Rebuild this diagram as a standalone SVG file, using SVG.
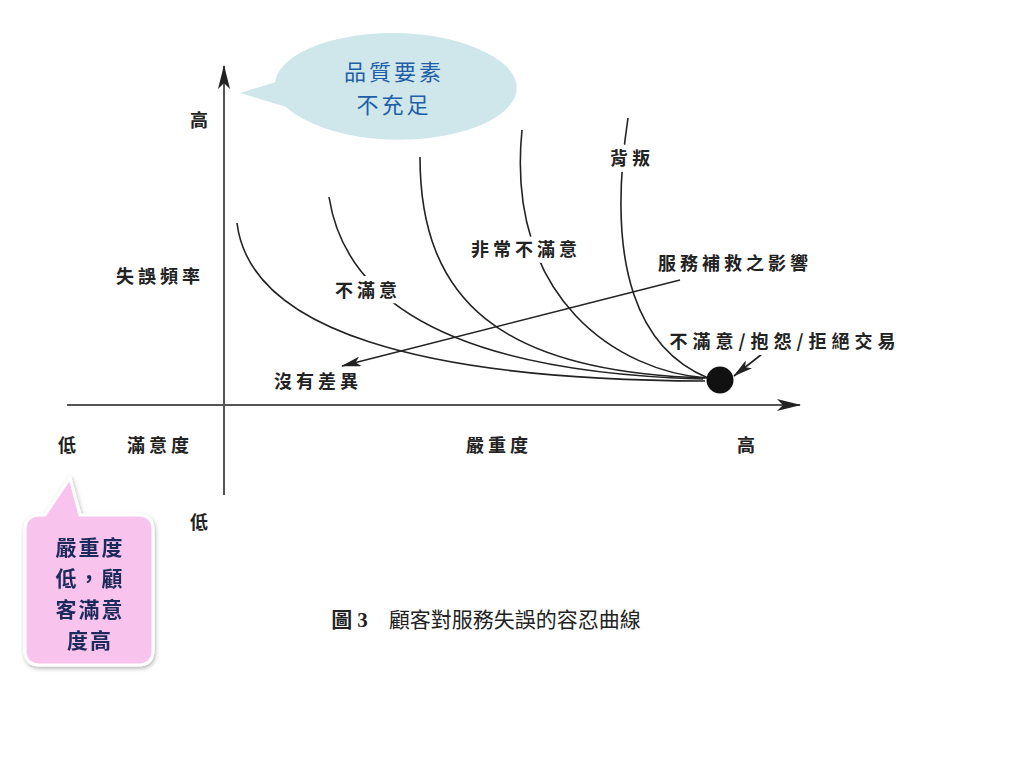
<svg xmlns="http://www.w3.org/2000/svg" width="1024" height="768" viewBox="0 0 1024 768">
<defs>
<style>
.lbl{font-family:"Noto Sans CJK TC","Noto Sans CJK SC",sans-serif;font-size:18px;font-weight:bold;fill:#222;letter-spacing:4px;text-anchor:middle}
.gap{paint-order:stroke;stroke:#fff;stroke-width:10px;stroke-linejoin:round}
.curve{fill:none;stroke:#222;stroke-width:1.6}
.axis{stroke:#555;stroke-width:2;fill:none}
.bb{font-family:"Noto Sans CJK TC",sans-serif;font-size:22px;fill:#1f5fa8;text-anchor:middle;letter-spacing:3px}
.pk{font-family:"Noto Sans CJK TC",sans-serif;font-size:21px;font-weight:bold;fill:#1e2a5c;text-anchor:middle;letter-spacing:2px}
</style>
<marker id="ah" viewBox="0 0 20 10" refX="19" refY="5" markerWidth="20" markerHeight="10" markerUnits="userSpaceOnUse" orient="auto">
<path d="M0,0 L20,5 L0,10 L5,5 Z" fill="#222"/>
</marker>
<marker id="axh" viewBox="0 0 24 12" refX="23" refY="6" markerWidth="24" markerHeight="12" markerUnits="userSpaceOnUse" orient="auto">
<path d="M0,0 L24,6 L0,12 L6,6 Z" fill="#222"/>
</marker>
<filter id="sh" x="-20%" y="-20%" width="140%" height="140%">
<feDropShadow dx="1" dy="2" stdDeviation="2" flood-color="#000" flood-opacity="0.3"/>
</filter>
</defs>
<rect width="1024" height="768" fill="#fff"/>

<g id="axes">
<line class="axis" x1="224" y1="495" x2="224" y2="66" marker-end="url(#axh)"/>
<line class="axis" x1="67" y1="405" x2="800" y2="405" marker-end="url(#axh)"/>
</g>

<g id="connectors">
<path class="curve" d="M237,223 C250,330 420,380 705,381"/>
<path class="curve" d="M329,197 C345,300 450,372 703,379"/>
<path class="curve" d="M420,157 C420,300 500,372 705,378"/>
<path class="curve" d="M522,130 C505,300 620,372 707,378"/>
<path class="curve" d="M628,118 C605,270 640,350 708,378"/>
<line x1="680" y1="280" x2="342" y2="366" stroke="#222" stroke-width="1.6" marker-end="url(#ah)"/>
<line x1="762" y1="354" x2="734" y2="376" stroke="#222" stroke-width="1.6" marker-end="url(#ah)"/>
</g>

<g id="dot"><circle cx="720" cy="380" r="13.5" fill="#111"/></g>

<g id="labels">
<text class="lbl" x="201" y="127">高</text>
<text class="lbl" x="160" y="283">失誤頻率</text>
<text class="lbl" x="69" y="452">低</text>
<text class="lbl" x="160" y="452">滿意度</text>
<text class="lbl" x="499" y="452">嚴重度</text>
<text class="lbl" x="748" y="452">高</text>
<text class="lbl" x="201" y="529">低</text>
<text class="lbl gap" x="318" y="388">沒有差異</text>
<text class="lbl gap" x="368" y="297">不滿意</text>
<text class="lbl gap" x="526" y="256">非常不滿意</text>
<text class="lbl gap" x="632" y="165">背叛</text>
<text class="lbl gap" x="735" y="270">服務補救之影響</text>
<text class="lbl gap" x="785" y="348" style="letter-spacing:5px">不滿意/抱怨/拒絕交易</text>
</g>

<g id="caption">
<text x="486" y="627" font-family="'Liberation Serif','Noto Sans CJK TC',serif" font-size="21" fill="#222" text-anchor="middle" font-weight="bold">圖 3　<tspan font-family="'Noto Sans CJK TC',sans-serif" font-weight="normal">顧客對服務失誤的容忍曲線</tspan></text>
</g>

<g id="bubble-quality">
<path d="M240,93 L282,80 A118,52 0 1 1 290,108 Z" fill="#cfe6ea"/>
<ellipse cx="393" cy="85" rx="118" ry="52" fill="#cfe6ea"/>
<text class="bb" x="394" y="80">品質要素</text>
<text class="bb" x="394" y="113">不充足</text>
</g>

<g id="bubble-severity" filter="url(#sh)">
<path d="M45,515 L70,478 L80,515 L138,515 Q153,515 153,530 L153,650 Q153,665 138,665 L40,665 Q25,665 25,650 L25,530 Q25,515 40,515 Z" fill="#f8c4ee" stroke="#fff" stroke-width="3"/>
<text class="pk" x="90" y="555">嚴重度</text>
<text class="pk" x="90" y="586">低，顧</text>
<text class="pk" x="90" y="617">客滿意</text>
<text class="pk" x="90" y="648">度高</text>
</g>
</svg>
